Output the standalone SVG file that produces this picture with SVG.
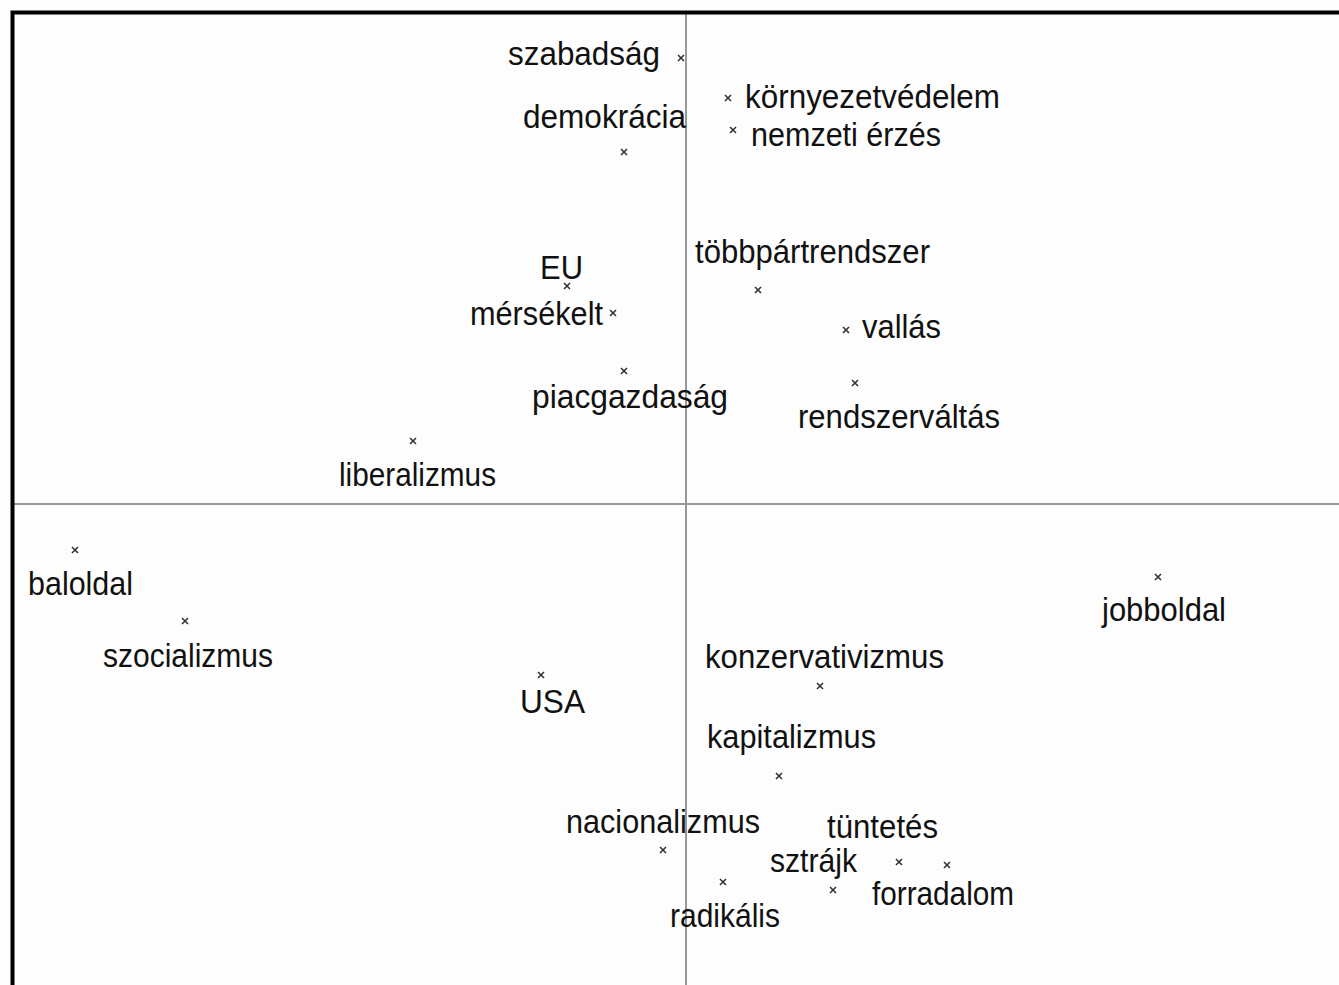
<svg xmlns="http://www.w3.org/2000/svg" width="1339" height="985" viewBox="0 0 1339 985">
<style>
.lbl{font-family:"Liberation Sans",Arial,sans-serif;font-size:34px;fill:#111}
.axis{stroke:#999;stroke-width:2;fill:none}
.frame{stroke:#000;stroke-width:4;fill:none}
.mk{stroke:#333;stroke-width:1.6;fill:none}
</style>
<defs>
<path id="x" class="mk" d="M-3,-3L3,3M-3,3L3,-3"/>
</defs>
<rect width="1339" height="985" fill="#fdfdfd"/>
<g id="axes">
<line class="axis" x1="686" y1="12" x2="686" y2="985"/>
<line class="axis" x1="12" y1="504" x2="1339" y2="504"/>
<path class="frame" d="M12.5,985V12.5H1339"/>
</g>
<g id="points">
<g id="szabadsag"><use href="#x" x="681" y="58"/><text class="lbl" x="508" y="65" textLength="152" lengthAdjust="spacingAndGlyphs">szabadság</text></g>
<g id="demokracia"><use href="#x" x="624" y="152"/><text class="lbl" x="523" y="128" textLength="163" lengthAdjust="spacingAndGlyphs">demokrácia</text></g>
<g id="kornyezetvedelem"><use href="#x" x="728" y="98"/><text class="lbl" x="745" y="108" textLength="255" lengthAdjust="spacingAndGlyphs">környezetvédelem</text></g>
<g id="nemzeti"><use href="#x" x="733" y="130"/><text class="lbl" x="751" y="146" textLength="190" lengthAdjust="spacingAndGlyphs">nemzeti érzés</text></g>
<g id="tobbpart"><use href="#x" x="758" y="290"/><text class="lbl" x="695" y="263" textLength="235" lengthAdjust="spacingAndGlyphs">többpártrendszer</text></g>
<g id="eu"><use href="#x" x="567" y="286"/><text class="lbl" x="540" y="279" textLength="43" lengthAdjust="spacingAndGlyphs">EU</text></g>
<g id="mersekelt"><use href="#x" x="613" y="313"/><text class="lbl" x="470" y="325" textLength="133" lengthAdjust="spacingAndGlyphs">mérsékelt</text></g>
<g id="vallas"><use href="#x" x="846" y="330"/><text class="lbl" x="862" y="338" textLength="79" lengthAdjust="spacingAndGlyphs">vallás</text></g>
<g id="piacgazdasag"><use href="#x" x="624" y="371"/><text class="lbl" x="532" y="408" textLength="196" lengthAdjust="spacingAndGlyphs">piacgazdaság</text></g>
<g id="rendszervaltas"><use href="#x" x="855" y="383"/><text class="lbl" x="798" y="428" textLength="202" lengthAdjust="spacingAndGlyphs">rendszerváltás</text></g>
<g id="liberalizmus"><use href="#x" x="413" y="441"/><text class="lbl" x="339" y="486" textLength="157" lengthAdjust="spacingAndGlyphs">liberalizmus</text></g>
<g id="baloldal"><use href="#x" x="75" y="550"/><text class="lbl" x="28" y="595" textLength="105" lengthAdjust="spacingAndGlyphs">baloldal</text></g>
<g id="szocializmus"><use href="#x" x="185" y="621"/><text class="lbl" x="103" y="667" textLength="170" lengthAdjust="spacingAndGlyphs">szocializmus</text></g>
<g id="jobboldal"><use href="#x" x="1158" y="577"/><text class="lbl" x="1102" y="621" textLength="124" lengthAdjust="spacingAndGlyphs">jobboldal</text></g>
<g id="usa"><use href="#x" x="541" y="675"/><text class="lbl" x="520" y="713" textLength="65" lengthAdjust="spacingAndGlyphs">USA</text></g>
<g id="konzervativizmus"><use href="#x" x="820" y="686"/><text class="lbl" x="705" y="668" textLength="239" lengthAdjust="spacingAndGlyphs">konzervativizmus</text></g>
<g id="kapitalizmus"><use href="#x" x="779" y="776"/><text class="lbl" x="707" y="748" textLength="169" lengthAdjust="spacingAndGlyphs">kapitalizmus</text></g>
<g id="nacionalizmus"><use href="#x" x="663" y="850"/><text class="lbl" x="566" y="833" textLength="194" lengthAdjust="spacingAndGlyphs">nacionalizmus</text></g>
<g id="tuntetes"><use href="#x" x="899" y="862"/><text class="lbl" x="827" y="838" textLength="111" lengthAdjust="spacingAndGlyphs">tüntetés</text></g>
<g id="forradalom"><use href="#x" x="947" y="865"/><text class="lbl" x="872" y="905" textLength="142" lengthAdjust="spacingAndGlyphs">forradalom</text></g>
<g id="sztrajk"><use href="#x" x="833" y="890"/><text class="lbl" x="770" y="872" textLength="87" lengthAdjust="spacingAndGlyphs">sztrájk</text></g>
<g id="radikalis"><use href="#x" x="723" y="882"/><text class="lbl" x="670" y="927" textLength="110" lengthAdjust="spacingAndGlyphs">radikális</text></g>
</g>
</svg>
